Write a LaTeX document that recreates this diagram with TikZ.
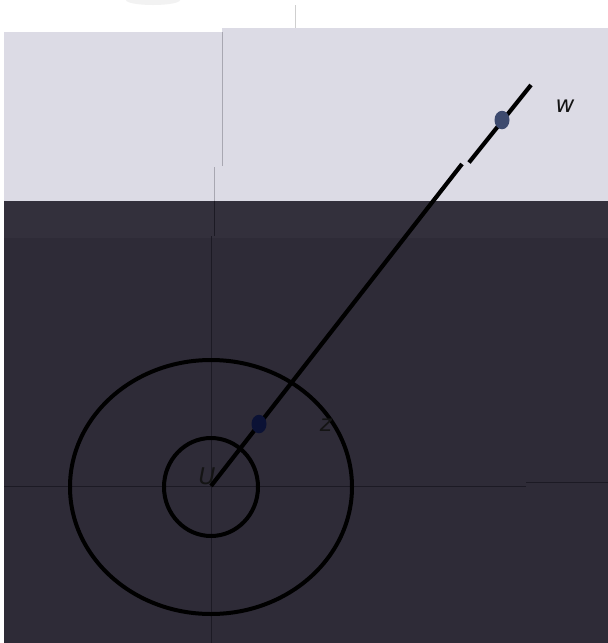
\documentclass[tikz,border=0pt]{standalone}
\usepackage{fontspec}
\setmainfont{DejaVu Sans}
\usetikzlibrary{shapes.geometric}
\definecolor{lightbg}{HTML}{DCDBE5}
\definecolor{darkbandbg}{HTML}{33303C}
\definecolor{darkbg}{HTML}{2E2B37}
\definecolor{axislight}{HTML}{A8A7B1}
\definecolor{axisdark}{HTML}{1C1A24}
\definecolor{wcol}{HTML}{3D4A6E}
\definecolor{zcol}{HTML}{0B1235}
\definecolor{blob}{HTML}{F2F2F2}
\definecolor{tick}{HTML}{CFCFCF}
\tikzset{
  conn/.style={line width=4.2pt, black, line cap=butt},
  ring/.style={line width=4pt, black},
  axisl/.style={line width=1pt, axislight},
  axisd/.style={line width=1pt, axisdark},
  ptdot/.style={ellipse, draw=none, inner sep=0pt, minimum width=15pt, minimum height=18.5pt},
  lbl/.style={inner sep=0pt, font=\fontsize{23}{27}\selectfont\itshape, text=black!92}
}
\begin{document}
\begin{tikzpicture}[x=1pt,y=-1pt]
\useasboundingbox (0,0) rectangle (608,643);
% backgrounds
\fill[white] (0,0) rectangle (608,643);
\fill[blob] (153,0) ellipse [x radius=27, y radius=5];
\draw[tick, line width=0.8pt] (295,5) -- (295,28);
\fill[lightbg] (4,32) -- (222,32) -- (222,28) -- (608,28) -- (608,201) -- (4,201) -- cycle;
\fill[darkbandbg] (4,201) rectangle (608,238);
\fill[darkbg] (4,238) rectangle (608,643);
% axes
\draw[axisl] (222,32) -- (222,166);
\draw[axisl] (214,167) -- (214,201);
\draw[axisd] (214,201) -- (214,236);
\draw[axisd] (211,236) -- (211,643);
\draw[axisd] (4,486) -- (526,486);
\draw[axisd] (526,482) -- (608,482);
% rings
\draw[ring] (211,487) ellipse [x radius=47, y radius=49];
\draw[ring] (211,487) ellipse [x radius=141, y radius=127];
% coordinates and ray
\coordinate (O) at (211,486);
\coordinate (G1) at (462,164);
\coordinate (G2) at (469,162.5);
\coordinate (E) at (531,85);
\node[lbl] (Ulab) at (207,476) {U};
\draw[conn] (O) -- (G1);
\draw[conn] (G2) -- (E);
% points
\node[ptdot, fill=zcol] (z) at (259,424) {};
\node[ptdot, fill=wcol] (w) at (502,120) {};
\node[lbl] (zlab) at (326,425) {z};
\node[lbl] (wlab) at (565,106) {w};
\end{tikzpicture}
\end{document}
